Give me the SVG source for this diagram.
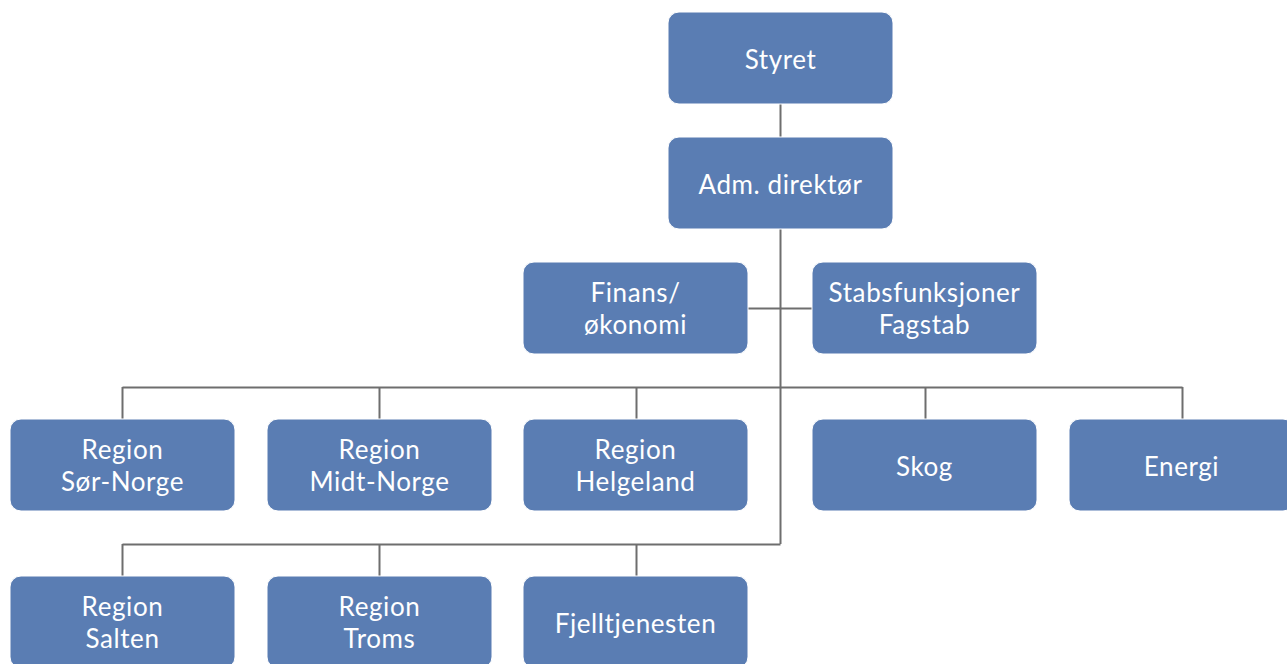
<svg xmlns="http://www.w3.org/2000/svg" width="1287" height="664" viewBox="0 0 1287 664">
<style>
.box{fill:#5a7db3;stroke:#ffffff;stroke-width:1}
.t{font-family:Lato,"Noto Sans",sans-serif;font-size:26px;letter-spacing:0.6px;fill:#ffffff;text-anchor:middle}
.c{stroke:#6e6e6e;stroke-width:2;fill:none}
</style>
<rect width="1287" height="664" fill="#ffffff"/>
<g id="connectors">
<path class="c" d="M780.5 104V137M780.5 229V544M748 308.5H812M122.5 387.5H1182.5M122.5 387V419M379.5 387V419M636.5 387V419M925.5 387V419M1182.5 387V419M122.5 544.5H780.5M122.5 544V576M379.5 544V576M636.5 544V576"/>
</g>
<g id="styret"><rect class="box" x="668" y="12" width="225" height="92" rx="11"/><text class="t" x="780.5" y="69">Styret</text></g>
<g id="adm"><rect class="box" x="668" y="137" width="225" height="92" rx="11"/><text class="t" x="780.5" y="194">Adm. direktør</text></g>
<g id="finans"><rect class="box" x="523" y="262" width="225" height="92" rx="11"/><text class="t" x="635.5" y="302">Finans/</text><text class="t" x="635.5" y="334">økonomi</text></g>
<g id="stabs"><rect class="box" x="812" y="262" width="225" height="92" rx="11"/><text class="t" x="924.5" y="302">Stabsfunksjoner</text><text class="t" x="924.5" y="334">Fagstab</text></g>
<g id="sor"><rect class="box" x="10" y="419" width="225" height="92" rx="11"/><text class="t" x="122.5" y="459">Region</text><text class="t" x="122.5" y="491">Sør-Norge</text></g>
<g id="midt"><rect class="box" x="267" y="419" width="225" height="92" rx="11"/><text class="t" x="379.5" y="459">Region</text><text class="t" x="379.5" y="491">Midt-Norge</text></g>
<g id="helgeland"><rect class="box" x="523" y="419" width="225" height="92" rx="11"/><text class="t" x="635.5" y="459">Region</text><text class="t" x="635.5" y="491">Helgeland</text></g>
<g id="skog"><rect class="box" x="812" y="419" width="225" height="92" rx="11"/><text class="t" x="924.5" y="476">Skog</text></g>
<g id="energi"><rect class="box" x="1069" y="419" width="225" height="92" rx="11"/><text class="t" x="1181.5" y="476">Energi</text></g>
<g id="salten"><rect class="box" x="10" y="576" width="225" height="92" rx="11"/><text class="t" x="122.5" y="616">Region</text><text class="t" x="122.5" y="648">Salten</text></g>
<g id="troms"><rect class="box" x="267" y="576" width="225" height="92" rx="11"/><text class="t" x="379.5" y="616">Region</text><text class="t" x="379.5" y="648">Troms</text></g>
<g id="fjell"><rect class="box" x="523" y="576" width="225" height="92" rx="11"/><text class="t" x="635.5" y="633">Fjelltjenesten</text></g>
</svg>
